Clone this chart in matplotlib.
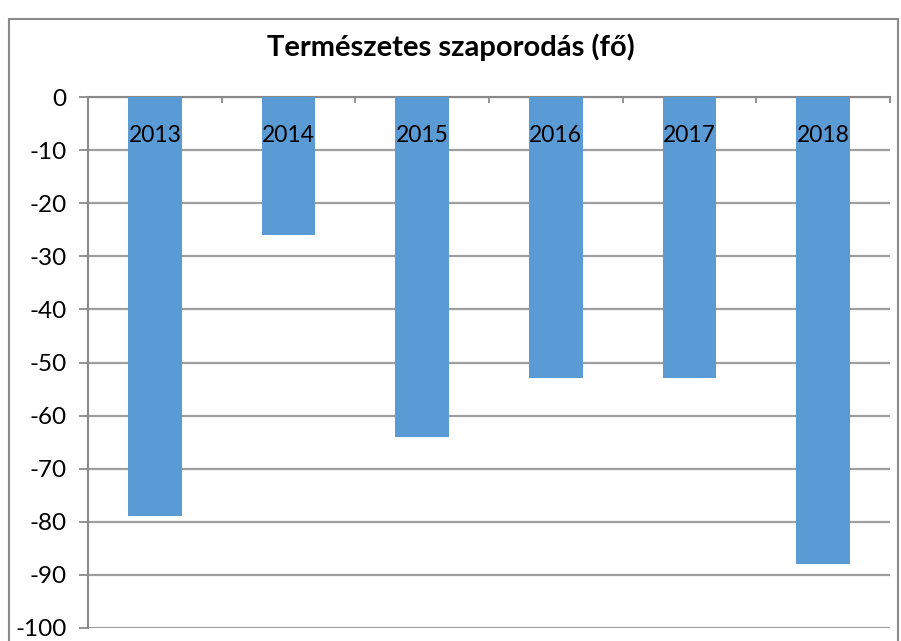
import matplotlib
matplotlib.use("Agg")
import matplotlib.pyplot as plt
from matplotlib.patches import Rectangle

years = ["2013", "2014", "2015", "2016", "2017", "2018"]
values = [-79, -26, -64, -53, -53, -88]
title = "Természetes szaporodás (fő)"
yticks = list(range(0, -101, -10))

plt.rcParams['font.family'] = ['Lato', 'DejaVu Sans']

fig = plt.figure(figsize=(9.01, 6.41), dpi=100)
fig.patch.set_facecolor("white")

# outer chart border
border = Rectangle((9/901, -0.05), (898-9)/901, 0.970 + 0.05, transform=fig.transFigure,
                   fill=False, edgecolor="#8a8a8a", linewidth=1.5, zorder=0)
fig.patches.append(border)

ax = fig.add_axes([88/901, 1-628/641, 802/901, 531/641])
x = list(range(len(years)))
ax.bar(x, values, width=0.40, color="#5b9bd5", zorder=3)

ax.set_ylim(-100, 0)
ax.set_xlim(-0.5, len(years) - 0.5)
ax.set_yticks(yticks)
ax.set_yticklabels([str(v) for v in yticks], fontsize=17.5)
ax.yaxis.grid(True, color="#9e9e9e", linewidth=1.6, zorder=0)
ax.set_axisbelow(True)

ax.xaxis.tick_top()
ax.set_xticks([i - 0.5 for i in range(len(years) + 1)])
ax.set_xticklabels([])
ax.tick_params(axis='x', direction='in', length=4, color="#8a8a8a", width=1.3)
ax.tick_params(axis='y', direction='out', length=6.5, color="#8a8a8a", width=1.3, pad=9)

for s in ["right", "bottom"]:
    ax.spines[s].set_visible(False)
for s in ["left", "top"]:
    ax.spines[s].set_color("#8a8a8a")
    ax.spines[s].set_linewidth(1.5)

for xi, lab in zip(x, years):
    ax.text(xi, -7.2, lab, ha="center", va="center", fontsize=16.5, zorder=4)

fig.text(0.5, 1-47/641, title, ha="center", va="center", fontsize=21, fontweight="bold")

fig.savefig("out.png", dpi=100)
